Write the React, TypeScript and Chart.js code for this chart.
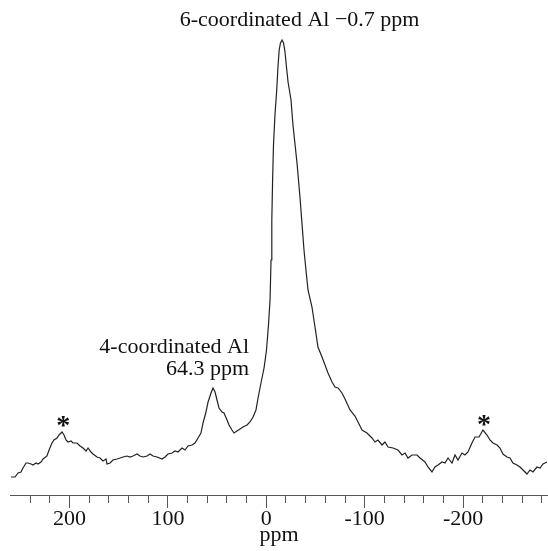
import { useEffect, useRef } from 'react';
import { Chart, registerables } from 'chart.js';

Chart.register(...registerables);

// Chemical shift (ppm) and intensity (arbitrary units)
const shiftPpm: number[] = [
  259.5, 255.4, 252.3, 249.3, 247.3, 244.2, 242.2, 239.1, 237.1, 234.0, 232.0, 229.0, 226.9, 222.9, 220.8,
  217.8, 215.8, 212.7, 210.7, 207.6, 205.6, 203.6, 201.5, 198.5, 196.4, 192.4, 189.3, 186.3, 183.2, 181.2,
  178.2, 176.1, 172.1, 169.0, 166.0, 162.9, 161.9, 158.8, 155.8, 151.7, 148.7, 145.6, 141.6, 138.5, 135.5,
  131.4, 128.4, 125.3, 121.2, 118.2, 115.1, 111.1, 106.0, 102.9, 99.9, 95.8, 92.8, 89.7, 85.7, 82.6,
  79.6, 75.5, 72.5, 69.4, 66.4, 64.3, 61.3, 59.2, 56.2, 54.2, 52.1, 50.1, 48.1, 45.0, 43.0,
  39.9, 37.9, 34.9, 32.8, 29.8, 26.7, 23.7, 19.6, 16.6, 13.5, 10.5, 8.4, 5.4,
  2.3, -0.2, -2.2, -3.8, -4.8, -5.6, -6.4, -7.3, -8.8, -10.6, -11.9, -13.1, -14.4, -16.0, -17.5, -19.0, -20.5, -22.1,
  -25.1, -27.1, -31.2, -34.2, -38.3, -40.3, -42.4, -46.4, -49.5, -52.5, -56.6, -59.7, -62.7, -66.8, -69.8,
  -72.9, -76.9, -80.0, -85.1, -90.1, -93.2, -97.3, -102.3, -107.4, -110.5, -113.5, -117.6, -120.6, -123.7, -128.8,
  -133.8, -137.9, -141.0, -144.0, -148.1, -153.2, -156.2, -161.3, -164.3, -168.4, -171.4, -174.5, -178.6, -181.6, -184.7,
  -188.7, -191.8, -194.8, -198.9, -201.9, -205.0, -209.0, -212.1, -216.2, -220.2, -224.3, -227.3, -230.4, -234.5, -237.5,
  -240.5, -244.6, -247.7, -250.7, -254.8, -257.8, -260.9, -264.9, -268.0, -271.0, -275.1, -278.2, -281.2, -285.3,
];

const intensity: number[] = [
  3, 3, 7, 8, 12, 17, 17, 16, 15, 17, 16, 18, 21, 24, 30,
  37, 40, 42, 45, 48, 45, 40, 38, 39, 37, 37, 34, 32, 29, 32,
  28, 26, 23, 22, 19, 21, 16, 17, 20, 21, 22, 23, 24, 23, 24,
  26, 24, 23, 24, 26, 24, 23, 21, 23, 26, 27, 29, 28, 32, 30,
  34, 35, 37, 42, 47, 57, 68, 78, 87, 92, 88, 80, 72, 68, 67,
  60, 55, 50, 47, 49, 51, 53, 55, 58, 63, 70, 82, 97,
  112, 130, 155, 180, 220, 260, 300, 335, 365, 390, 414, 430, 437, 440, 437, 428, 413, 398,
  380, 355, 317, 283, 230, 210, 190, 173, 153, 133, 123, 115, 107, 98, 93,
  92, 87, 81, 70, 64, 58, 50, 47, 42, 38, 40, 35, 38, 33, 32,
  30, 25, 27, 22, 25, 25, 22, 18, 13, 8, 13, 15, 18, 17, 22,
  17, 25, 20, 27, 25, 28, 37, 43, 43, 50, 45, 40, 37, 35, 32,
  26, 23, 22, 17, 15, 13, 10, 6, 10, 8, 13, 12, 16, 18,
];

const majorTicks: number[] = [200, 100, 0, -100, -200];
const minorTicks: number[] = [
  240, 220, 180, 160, 140, 120, 80, 60, 40, 20, -20, -40, -60, -80,
  -120, -140, -160, -180, -220, -240, -260, -280,
];
const xTitle = 'ppm';

const textLabels = [
  { text: '6-coordinated Al \u22120.7 ppm', x: -33.8, y: 454, align: 'center' },
  { text: '4-coordinated Al', x: 17.6, y: 127, align: 'right' },
  { text: '64.3 ppm', x: 17.6, y: 105, align: 'right' },
];
const sidebandMarks = [
  { text: '*', x: 206.5, y: 60 },
  { text: '*', x: -221.2, y: 61 },
];

const X_MIN = -286.3;
const X_MAX = 260.5;
const Y_MIN = -15;
const Y_MAX = 480;
const FONT = "'Liberation Serif', 'Times New Roman', serif";

const annotationPlugin = {
  id: 'annotationText',
  afterDatasetsDraw(chart: any) {
    const ctx = chart.ctx as CanvasRenderingContext2D;
    const xs = chart.scales.x;
    const ys = chart.scales.y;
    ctx.save();
    ctx.fillStyle = '#111';
    ctx.textBaseline = 'alphabetic';
    ctx.font = `22px ${FONT}`;
    for (const l of textLabels) {
      ctx.textAlign = l.align as CanvasTextAlign;
      ctx.fillText(l.text, xs.getPixelForValue(l.x), ys.getPixelForValue(l.y));
    }
    ctx.font = `bold 28px ${FONT}`;
    ctx.textAlign = 'center';
    for (const m of sidebandMarks) {
      ctx.fillText(m.text, xs.getPixelForValue(m.x), ys.getPixelForValue(m.y) + 14);
    }
    ctx.restore();
  },
};

export default function App() {
  const ref = useRef<HTMLCanvasElement | null>(null);
  useEffect(() => {
    if (!ref.current) return;
    const points = shiftPpm.map((x, i) => ({ x, y: intensity[i] }));
    const chart = new Chart(ref.current, {
      type: 'line',
      data: {
        datasets: [
          {
            data: points,
            borderColor: '#222',
            borderWidth: 1.2,
            pointRadius: 0,
            tension: 0,
            fill: false,
            xAxisID: 'x',
            yAxisID: 'y',
          },
        ],
      },
      options: {
        responsive: false,
        animation: false,
        layout: { padding: { left: 10, right: 0, top: 0, bottom: 0 } },
        plugins: { legend: { display: false }, tooltip: { enabled: false } },
        scales: {
          x: {
            type: 'linear',
            position: 'bottom',
            reverse: true,
            min: X_MIN,
            max: X_MAX,
            afterBuildTicks: (s: any) => {
              s.ticks = majorTicks.map((v) => ({ value: v }));
            },
            ticks: {
              autoSkip: false,
              maxRotation: 0,
              padding: 0,
              color: '#111',
              font: { family: FONT, size: 22, lineHeight: 1 },
              callback: (v: any) => String(v),
            },
            grid: { drawOnChartArea: false, drawTicks: true, tickLength: 13, color: '#555', lineWidth: 1 },
            border: { display: true, color: '#555', width: 1 },
            title: {
              display: true,
              text: xTitle,
              color: '#111',
              font: { family: FONT, size: 22, lineHeight: 1 },
              padding: { top: -6, bottom: 5 },
            },
          },
          x2: {
            type: 'linear',
            axis: 'x',
            position: { y: Y_MIN } as any,
            reverse: true,
            min: X_MIN,
            max: X_MAX,
            afterBuildTicks: (s: any) => {
              s.ticks = minorTicks.map((v) => ({ value: v }));
            },
            ticks: { display: false },
            grid: { drawOnChartArea: false, drawTicks: true, tickLength: 7, color: '#555', lineWidth: 1 },
            border: { display: true, color: '#555', width: 1 },
          },
          y: { display: false, min: Y_MIN, max: Y_MAX },
        },
      } as any,
      plugins: [annotationPlugin],
    });
    return () => chart.destroy();
  }, []);
  return (
    <div style={{ position: 'fixed', left: 0, top: 0, width: 548, height: 551, background: '#fff' }}>
      <canvas ref={ref} width={548} height={551} style={{ display: 'block' }} />
    </div>
  );
}
